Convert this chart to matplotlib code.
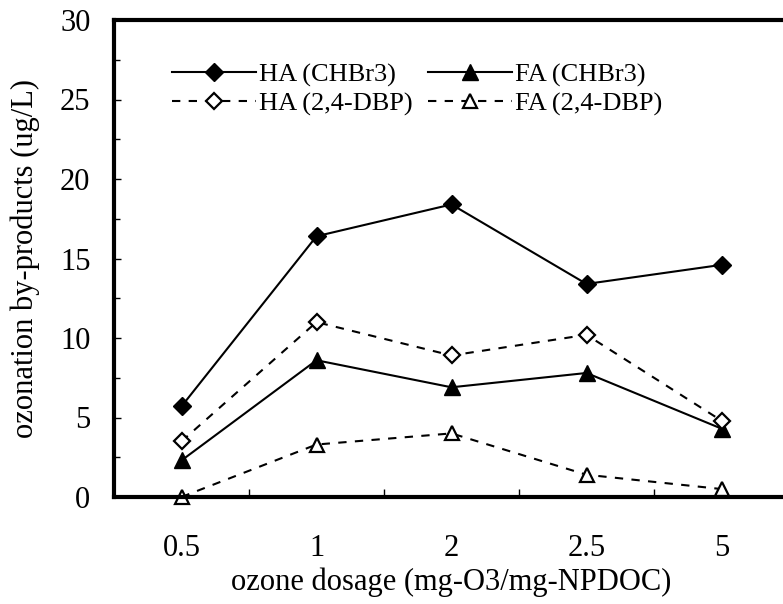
import numpy as np
import matplotlib.pyplot as plt
from matplotlib.ticker import FixedLocator, MultipleLocator

plt.rcParams['font.family'] = ['Liberation Serif', 'DejaVu Serif']

dosage = ['0.5', '1', '2', '2.5', '5']
ha_chbr3 = [5.7, 16.4, 18.4, 13.4, 14.6]
fa_chbr3 = [2.3, 8.6, 6.9, 7.8, 4.3]
ha_dbp = [3.5, 11.0, 8.9, 10.2, 4.8]
fa_dbp = [0.0, 3.3, 4.0, 1.4, 0.5]

x = np.arange(len(dosage))

fig = plt.figure(figsize=(7.83, 6.04), dpi=100)
ax = fig.add_axes([114 / 783, (604 - 497) / 604, 675 / 783, 477 / 604])

lw = 1.5
dash = (0, (4, 4))
l1, = ax.plot(x, ha_chbr3, color='black', lw=lw, marker='D', ms=9,
              mfc='black', mec='black', label='HA (CHBr3)', clip_on=False)
l2, = ax.plot(x, fa_chbr3, color='black', lw=lw, marker='^', ms=11,
              mfc='black', mec='black', label='FA (CHBr3)', clip_on=False)
l3, = ax.plot(x, ha_dbp, color='black', lw=lw, ls=dash, marker='D', ms=8,
              mfc='white', mec='black', mew=1.6, label='HA (2,4-DBP)', clip_on=False)
l4, = ax.plot(x, fa_dbp, color='black', lw=lw, ls=dash, marker='^', ms=10,
              mfc='white', mec='black', mew=1.6, label='FA (2,4-DBP)', clip_on=False)

ax.set_xlim(-0.5, 4.5)
ax.set_ylim(0, 30)

# category labels between boundary ticks (spreadsheet style)
ax.xaxis.set_major_locator(FixedLocator(np.arange(-0.5, 5, 1.0)))
ax.xaxis.set_minor_locator(FixedLocator(x))
ax.set_xticklabels([])
ax.set_xticklabels(dosage, minor=True)
ax.tick_params(axis='x', which='major', direction='in', length=6, width=1)
ax.tick_params(axis='x', which='minor', length=0, pad=27, labelsize=22)

ax.yaxis.set_major_locator(MultipleLocator(5))
ax.yaxis.set_minor_locator(MultipleLocator(2.5))
ax.tick_params(axis='y', which='major', direction='in', length=5, width=1,
               pad=17, labelsize=22)
ax.tick_params(axis='y', which='minor', direction='in', length=4, width=1)

for s in ax.spines.values():
    s.set_linewidth(3)

ax.set_xlabel('ozone dosage (mg-O3/mg-NPDOC)', fontsize=22, labelpad=3)
ax.set_ylabel('ozonation by-products (ug/L)', fontsize=22, labelpad=14)

ax.legend([l1, l3, l2, l4], [l.get_label() for l in (l1, l3, l2, l4)],
          ncol=2, loc='upper left', bbox_to_anchor=(0.05, 0.96), frameon=False,
          fontsize=19, handlelength=3.2, handletextpad=0.1, columnspacing=0.6,
          labelspacing=0.2)

fig.savefig('out.png', dpi=100)
